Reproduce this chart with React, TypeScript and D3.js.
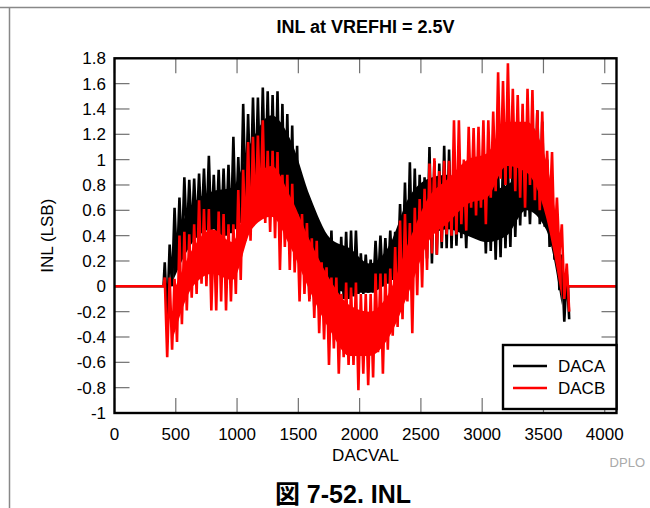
import React from "react";
import * as d3 from "d3";

const W = 650;
const H = 508;

const title = "INL at VREFHI = 2.5V";
const xLabel = "DACVAL";
const yLabel = "INL (LSB)";
const caption = "図 7-52. INL";
const watermark = "DPLO";

const xTicks = [0, 500, 1000, 1500, 2000, 2500, 3000, 3500, 4000];
const yTicks = [-1, -0.8, -0.6, -0.4, -0.2, 0, 0.2, 0.4, 0.6, 0.8, 1, 1.2, 1.4, 1.6, 1.8];

const firstCode = 400;
const lastCode = 3700;
const binSize = 40;
const fullScale = 4096;

// DACA envelope per 40-code bin (max / min)
const dacaHi = [
  0.19, 0.33, 0.62, 0.70, 0.86, 0.84, 0.85, 0.89, 0.93, 1.03,
  0.88, 0.92, 0.93, 0.96, 1.18, 1.02, 1.44, 1.36, 1.49, 1.49,
  1.57, 1.54, 1.51, 1.54, 1.44, 1.36, 1.27, 1.11, 0.84, 0.68,
  0.55, 0.53, 0.34, 0.28, 0.44, 0.23, 0.39, 0.43, 0.44, 0.44,
  0.26, 0.25, 0.21, 0.36, 0.40, 0.38, 0.44, 0.43, 0.65, 0.82,
  0.98, 0.93, 0.88, 0.86, 1.10, 0.99, 0.97, 1.11, 1.08, 0.95,
  0.90, 0.80, 0.85, 0.85, 0.88, 0.82, 0.90, 0.95, 0.92, 1.00,
  0.95, 1.05, 1.00, 1.10, 0.98, 1.05, 1.39, 1.30, 1.00, 0.80,
  0.55, 0.25, 0.10,
];
const dacaLo = [
  -0.25, 0.00, 0.15, 0.25, 0.35, 0.40, 0.42, 0.45, 0.45, 0.40,
  0.40, 0.40, 0.40, 0.42, 0.45, 0.50, 0.65, 0.70, 0.75, 0.75,
  0.80, 0.70, 0.65, 0.60, 0.55, 0.45, 0.35, 0.20, 0.05, -0.10,
  -0.16, -0.18, -0.15, -0.12, -0.15, -0.12, -0.10, -0.10, -0.08, -0.06,
  -0.06, -0.05, -0.05, 0.00, 0.00, 0.02, 0.05, 0.08, 0.12, 0.15,
  0.18, 0.20, 0.22, 0.22, 0.18, 0.25, 0.30, 0.30, 0.30, 0.32,
  0.38, 0.30, 0.47, 0.44, 0.47, 0.26, 0.28, 0.21, 0.23, 0.30,
  0.31, 0.39, 0.48, 0.55, 0.49, 0.62, 0.49, 0.47, 0.31, 0.21,
  -0.03, -0.28, -0.26,
];
// DACB envelope per 40-code bin (max / min)
const dacbHi = [
  0.07, 0.07, 0.06, 0.40, 0.43, 0.41, 0.49, 0.68, 0.61, 0.61,
  0.43, 0.59, 0.57, 0.49, 0.49, 0.76, 0.92, 1.14, 1.18, 1.19,
  1.31, 1.07, 1.07, 1.06, 0.88, 0.88, 0.81, 0.57, 0.57, 0.50,
  0.38, 0.36, 0.19, 0.15, 0.07, 0.07, -0.06, 0.03, -0.01, 0.03,
  -0.06, -0.06, -0.06, 0.10, 0.10, 0.10, 0.14, 0.31, 0.52, 0.57,
  0.50, 0.62, 0.69, 0.77, 0.97, 1.01, 0.91, 0.99, 0.99, 1.31,
  1.31, 1.00, 1.26, 1.25, 1.26, 1.31, 1.31, 1.38, 1.69, 1.62,
  1.76, 1.56, 1.51, 1.44, 1.56, 1.55, 1.39, 1.38, 1.07, 1.06,
  0.70, 0.49, 0.18,
];
const dacbLo = [
  -0.56, -0.50, -0.44, -0.30, -0.19, -0.09, -0.06, 0.02, 0.00, -0.19,
  -0.19, -0.12, -0.19, -0.12, -0.06, 0.05, 0.36, 0.36, 0.53, 0.57,
  0.50, 0.43, 0.38, 0.13, 0.31, 0.13, 0.11, -0.12, -0.06, -0.12,
  -0.25, -0.37, -0.42, -0.62, -0.49, -0.69, -0.56, -0.62, -0.62, -0.82,
  -0.69, -0.78, -0.72, -0.52, -0.69, -0.50, -0.39, -0.32, -0.26, -0.12,
  -0.37, -0.07, -0.01, 0.13, 0.26, 0.25, 0.35, 0.41, 0.40, 0.41,
  0.49, 0.44, 0.62, 0.56, 0.62, 0.49, 0.70, 0.75, 0.85, 0.80,
  0.85, 0.75, 0.70, 0.62, 0.80, 0.68, 0.60, 0.65, 0.55, 0.31,
  0.26, -0.10, -0.20,
];

// dense core of each trace (where the trace is solid), per 160-code bin
const coreCodes = [480, 640, 800, 960, 1120, 1280, 1440, 1600, 1760, 1920, 2080, 2240, 2400, 2560, 2720, 2880, 3040, 3200, 3360, 3520, 3650];
const dacaCoreTop = [0.35, 0.65, 0.75, 0.78, 1.15, 1.35, 1.15, 0.70, 0.38, 0.30, 0.18, 0.32, 0.70, 0.85, 0.88, 0.75, 0.75, 0.80, 0.90, 0.80, 0.15];
const dacaCoreBot = [0.05, 0.35, 0.45, 0.45, 0.70, 0.85, 0.65, 0.25, 0.00, -0.05, -0.05, 0.05, 0.30, 0.40, 0.45, 0.40, 0.35, 0.40, 0.60, 0.45, -0.15];
const dacbCoreTop = [-0.05, 0.30, 0.45, 0.35, 0.80, 0.95, 0.70, 0.35, 0.05, -0.15, -0.20, -0.05, 0.35, 0.70, 0.85, 1.00, 1.05, 1.30, 1.30, 1.00, 0.20];
const dacbCoreBot = [-0.40, 0.00, 0.10, 0.05, 0.45, 0.55, 0.30, -0.05, -0.35, -0.55, -0.55, -0.40, -0.05, 0.35, 0.50, 0.65, 0.70, 0.95, 0.90, 0.55, -0.10];

const seriesNames = ["DACA", "DACB"];
const seriesColors = ["#000000", "#ff0000"];

function buildPoints(hi: number[], lo: number[]): [number, number][] {
  const pts: [number, number][] = [[0, 0], [firstCode, 0]];
  hi.forEach((h, i) => {
    const c = firstCode + i * binSize;
    pts.push([c + binSize * 0.25, h]);
    pts.push([c + binSize * 0.75, lo[i]]);
  });
  pts.push([lastCode, 0]);
  pts.push([fullScale, 0]);
  return pts;
}

const fmt = (t: number) => String(t);

export default function App() {
  const left = 114.5, right = 616.5, top = 58.3, bottom = 413;
  const x = d3.scaleLinear().domain([0, fullScale]).range([left, right]);
  const y = d3.scaleLinear().domain([-1, 1.8]).range([bottom, top]);
  const line = d3.line<[number, number]>().x((d) => x(d[0])).y((d) => y(d[1]));
  const area = d3.area<number>()
    .x((c) => x(c))
    .curve(d3.curveMonotoneX);
  const series = [buildPoints(dacaHi, dacaLo), buildPoints(dacbHi, dacbLo)];
  const cores = [
    [dacaCoreTop, dacaCoreBot],
    [dacbCoreTop, dacbCoreBot],
  ];
  const font = "'Liberation Sans', Arial, Helvetica, sans-serif";
  const tickLen = 15;
  const tickColor = "#707070";
  const cx = (left + right) / 2;
  const cy = (top + bottom) / 2;
  const lg = { x0: 503, y0: 345, x1: right, y1: 409 };

  return (
    <svg width={W} height={H} style={{ position: "absolute", left: 0, top: 0, background: "#fff" }} fontFamily={font}>
      <rect x={0} y={0} width={W} height={H} fill="#fff" />
      <line x1={0} x2={W} y1={7.5} y2={7.5} stroke="#888" strokeWidth={1.5} />
      <line x1={9.5} x2={9.5} y1={7} y2={H} stroke="#888" strokeWidth={1.5} />

      <text x={cx} y={33} textAnchor="middle" fontSize={18} fontWeight="bold">{title}</text>

      <defs>
        <clipPath id="plotclip">
          <rect x={left} y={top} width={right - left} height={bottom - top} />
        </clipPath>
      </defs>

      {xTicks.map((t) => (
        <g key={"xt" + t}>
          <line x1={x(t)} x2={x(t)} y1={bottom} y2={bottom - tickLen} stroke={tickColor} strokeWidth={1.2} />
          <line x1={x(t)} x2={x(t)} y1={top} y2={top + tickLen} stroke={tickColor} strokeWidth={1.2} />
          <text x={x(t)} y={440} textAnchor="middle" fontSize={17}>{fmt(t)}</text>
        </g>
      ))}
      {yTicks.map((t) => (
        <g key={"yt" + t}>
          <line x1={left} x2={left + tickLen} y1={y(t)} y2={y(t)} stroke={tickColor} strokeWidth={1.2} />
          <line x1={right} x2={right - tickLen} y1={y(t)} y2={y(t)} stroke={tickColor} strokeWidth={1.2} />
          <text x={106} y={y(t)} dy="0.36em" textAnchor="end" fontSize={17}>{fmt(t)}</text>
        </g>
      ))}

      <g clipPath="url(#plotclip)">
        {series.map((pts, i) => {
          const [ct, cb] = cores[i];
          const a = d3.area<number>()
            .x((c) => x(c))
            .y0((_, k) => y(cb[k]))
            .y1((_, k) => y(ct[k]))
            .curve(d3.curveMonotoneX);
          return (
            <g key={seriesNames[i]}>
              <path d={a(coreCodes) || ""} fill={seriesColors[i]} stroke="none" />
              <path d={line(pts) || ""} fill="none" stroke={seriesColors[i]} strokeWidth={2.6} strokeLinejoin="miter" strokeMiterlimit={2} />
            </g>
          );
        })}
      </g>

      <rect x={left} y={top} width={right - left} height={bottom - top} fill="none" stroke="#000" strokeWidth={2.4} />

      <rect x={lg.x0} y={lg.y0} width={lg.x1 - lg.x0} height={lg.y1 - lg.y0} fill="#fff" stroke="#000" strokeWidth={2.4} />
      {seriesNames.map((n, i) => (
        <g key={"lg" + n}>
          <line x1={513} x2={547} y1={366 + i * 22} y2={366 + i * 22} stroke={seriesColors[i]} strokeWidth={2.6} />
          <text x={558} y={366 + i * 22} dy="0.36em" fontSize={17}>{n}</text>
        </g>
      ))}

      <text x={cx} y={461} textAnchor="middle" fontSize={17}>{xLabel}</text>
      <text transform={`translate(53, ${cy}) rotate(-90)`} textAnchor="middle" fontSize={17}>{yLabel}</text>

      <text x={645} y={467} textAnchor="end" fontSize={13} fill="#aaa">{watermark}</text>
      <text x={343} y={503} textAnchor="middle" fontSize={25} fontWeight="bold" fontFamily="'Liberation Sans', 'Noto Sans CJK JP', sans-serif">{caption}</text>
    </svg>
  );
}
